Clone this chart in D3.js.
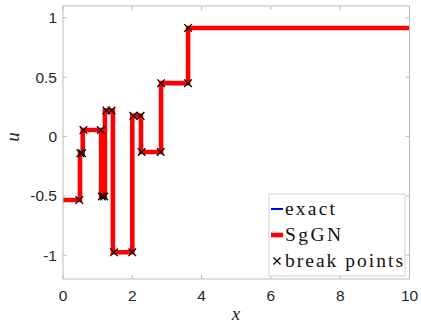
<!DOCTYPE html>
<html>
<head>
<meta charset="utf-8">
<script src="https://cdn.jsdelivr.net/npm/d3@7"></script>
<style>
  html, body { margin: 0; padding: 0; background: #fff; }
  svg { display: block; }
</style>
</head>
<body>
<svg id="chart" width="421" height="323"></svg>
<script>
// ---- data ----
const stepBreaks = [0, 0.49, 0.57, 1.1, 1.21, 1.44, 2.0, 2.25, 2.83, 3.61, 10];
const sggnLevels = [-0.535, -0.14, 0.055, -0.505, 0.22, -0.975, 0.175, -0.13, 0.45, 0.915];
const exactLevels = [-0.535, -0.14, 0.055, -0.505, 0.22, -0.975, 0.175, -0.13, 0.45, 0.915];
const breakX = [0.47, 0.50, 0.55, 0.59, 1.09, 1.12, 1.19, 1.25, 1.40, 1.47, 2.0, 2.03, 2.24, 2.27, 2.82, 2.83, 3.61, 3.61];
const breakU = [-0.535, -0.14, -0.14, 0.055, 0.055, -0.505, -0.505, 0.22, 0.22, -0.975, -0.975, 0.175, 0.175, -0.13, -0.13, 0.45, 0.45, 0.915];
const xTicks = [0, 2, 4, 6, 8, 10];
const yTicks = [-1, -0.5, 0, 0.5, 1];
const legendLabels = ["exact", "SgGN", "break points"];

// ---- layout ----
const svg = d3.select("#chart");
const L = 63, R = 409.5, T = 6, B = 279;
const x = d3.scaleLinear().domain([0, 10]).range([L, R]);
const y = d3.scaleLinear().domain([-1.2, 1.1]).range([B, T]);
const axisColor = "#bcbcbc";
const textColor = "#262626";

function stepPoints(levels) {
  const pts = [];
  levels.forEach((v, i) => {
    pts.push([stepBreaks[i], v]);
    pts.push([stepBreaks[i + 1], v]);
  });
  return pts;
}
const line = d3.line().x(d => x(d[0])).y(d => y(d[1]));

svg.append("rect").attr("x", L).attr("y", T).attr("width", R - L).attr("height", B - T)
  .attr("fill", "#fff");

// data lines
svg.append("path").attr("d", line(stepPoints(exactLevels)))
  .attr("fill", "none").attr("stroke", "#0000ff").attr("stroke-width", 2);
svg.append("path").attr("d", line(stepPoints(sggnLevels)))
  .attr("fill", "none").attr("stroke", "#ff0000").attr("stroke-width", 4.6)
  .attr("stroke-linejoin", "miter");

// crosses
const cs = 3.8;
const crossG = svg.append("g").attr("stroke", "#000").attr("stroke-width", 1.3);
breakX.forEach((bx, i) => {
  const cx = x(bx), cy = y(breakU[i]);
  crossG.append("path").attr("d", `M${cx - cs},${cy - cs}L${cx + cs},${cy + cs}M${cx - cs},${cy + cs}L${cx + cs},${cy - cs}`);
});

// axes box
svg.append("rect").attr("x", L).attr("y", T).attr("width", R - L).attr("height", B - T)
  .attr("fill", "none").attr("stroke", axisColor).attr("stroke-width", 1);

const tl = 4;
const tickG = svg.append("g").attr("stroke", axisColor).attr("stroke-width", 1);
xTicks.forEach(t => {
  tickG.append("line").attr("x1", x(t)).attr("x2", x(t)).attr("y1", B).attr("y2", B - tl);
  tickG.append("line").attr("x1", x(t)).attr("x2", x(t)).attr("y1", T).attr("y2", T + tl);
});
yTicks.forEach(t => {
  tickG.append("line").attr("x1", L).attr("x2", L + tl).attr("y1", y(t)).attr("y2", y(t));
  tickG.append("line").attr("x1", R).attr("x2", R - tl).attr("y1", y(t)).attr("y2", y(t));
});

// tick labels
const fontSans = "'Liberation Sans', Arial, Helvetica, sans-serif";
svg.append("g").selectAll("text").data(xTicks).join("text")
  .attr("x", d => x(d)).attr("y", 301)
  .attr("text-anchor", "middle").attr("font-family", fontSans).attr("font-size", 15.5)
  .attr("fill", textColor).text(d => d);
svg.append("g").selectAll("text").data(yTicks).join("text")
  .attr("x", 57).attr("y", d => y(d) + 5.5)
  .attr("text-anchor", "end").attr("font-family", fontSans).attr("font-size", 15.5)
  .attr("fill", textColor).text(d => d);

// axis labels
const fontSerif = "'Liberation Serif', 'Times New Roman', serif";
svg.append("text").attr("x", 236).attr("y", 320).attr("text-anchor", "middle")
  .attr("font-family", fontSerif).attr("font-style", "italic").attr("font-size", 19)
  .attr("fill", textColor).text("x");
svg.append("text").attr("transform", "translate(19,137) rotate(-90)").attr("text-anchor", "middle")
  .attr("font-family", fontSerif).attr("font-style", "italic").attr("font-size", 19)
  .attr("fill", textColor).text("u");

// legend
const lx0 = 269, ly0 = 194, lx1 = 405, ly1 = 276;
svg.append("rect").attr("x", lx0).attr("y", ly0).attr("width", lx1 - lx0).attr("height", ly1 - ly0)
  .attr("fill", "#fff").attr("stroke", "#cfcfcf").attr("stroke-width", 1);
const rowY = [209, 235, 261];
const rowW = [50, 56, 118];
const lg = svg.append("g");
lg.append("line").attr("x1", 271).attr("x2", 283).attr("y1", rowY[0]).attr("y2", rowY[0])
  .attr("stroke", "#0000ff").attr("stroke-width", 2);
lg.append("line").attr("x1", 271).attr("x2", 283).attr("y1", rowY[1]).attr("y2", rowY[1])
  .attr("stroke", "#ff0000").attr("stroke-width", 4.6);
{
  const cx = 277, cy = rowY[2];
  lg.append("path").attr("d", `M${cx - 3.5},${cy - 3.5}L${cx + 3.5},${cy + 3.5}M${cx - 3.5},${cy + 3.5}L${cx + 3.5},${cy - 3.5}`)
    .attr("stroke", "#000").attr("stroke-width", 1.3);
}
legendLabels.forEach((lab, i) => {
  lg.append("text").attr("x", 285).attr("y", rowY[i] + 6)
    .attr("font-family", fontSerif).attr("font-size", 19.5)
    .attr("textLength", rowW[i]).attr("lengthAdjust", "spacing")
    .attr("fill", "#111").text(lab);
});
</script>
</body>
</html>
